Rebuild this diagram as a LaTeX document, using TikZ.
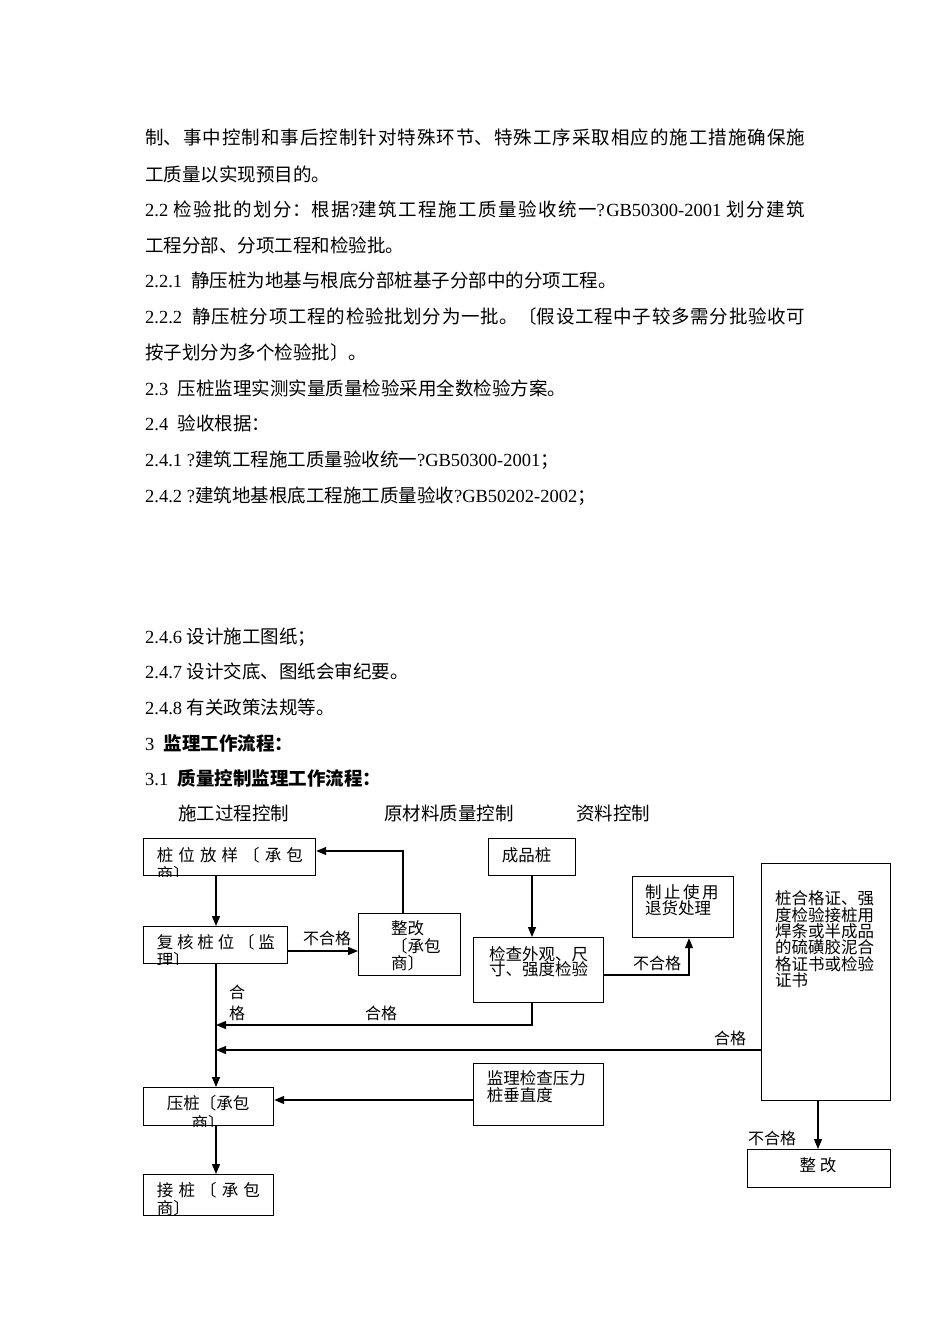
\documentclass[tikz,border=0pt]{standalone}
\usepackage{fontspec}
\setmainfont{Noto Sans CJK SC}
\newfontfamily\tnr{Liberation Serif}
\usetikzlibrary{arrows.meta}
\newcommand\Lt[1]{{\tnr #1}}
\newcommand\jl[1]{\parbox[b]{660pt}{\XeTeXlinebreaklocale "zh"\XeTeXlinebreakskip=0pt plus 4pt\parfillskip=0pt\noindent #1}}
\tikzset{
 body/.style={anchor=base west, inner sep=0pt, font=\fontsize{18.5}{22}\selectfont},
 box/.style={draw, line width=1.2pt, inner sep=0pt, anchor=north west},
 ct/.style={anchor=base west, inner sep=0pt, font=\fontsize{16.5}{19}\selectfont},
 ctc/.style={anchor=base, inner sep=0pt, font=\fontsize{16.5}{19}\selectfont},
 lbl/.style={anchor=base, inner sep=0pt, font=\fontsize{16}{19}\selectfont},
 arr/.style={line width=1.2pt, -{Triangle[length=10pt,width=8pt]}},
}
\begin{document}
\begin{tikzpicture}[x=1pt,y=-1pt]
\fill[white] (0,0) rectangle (950,1344);
\useasboundingbox (0,0) rectangle (950,1344);
% body text
\node[body] (t1) at (145,144) {\jl{制、事中控制和事后控制针对特殊环节、特殊工序采取相应的施工措施确保施}};
\node[body] (t2) at (145,181) {工质量以实现预目的。};
\node[body] (t3) at (145,216) {\jl{\Lt{2.2 }检验批的划分：根据\Lt{?}建筑工程施工质量验收统一\Lt{?GB50300-2001 }划分建筑}};
\node[body] (t4) at (145,252) {工程分部、分项工程和检验批。};
\node[body] (t5) at (145,287) {\Lt{2.2.1\ \ }静压桩为地基与根底分部桩基子分部中的分项工程。};
\node[body] (t6) at (145,323) {\jl{\Lt{2.2.2\ \ }静压桩分项工程的检验批划分为一批。〔假设工程中子较多需分批验收可}};
\node[body] (t7) at (145,359) {按子划分为多个检验批〕。};
\node[body] (t8) at (145,395) {\Lt{2.3\ \ }压桩监理实测实量质量检验采用全数检验方案。};
\node[body] (t9) at (145,430) {\Lt{2.4\ \ }验收根据：};
\node[body] (t10) at (145,466) {\Lt{2.4.1 ?}建筑工程施工质量验收统一\Lt{?GB50300-2001}；};
\node[body] (t11) at (145,502) {\Lt{2.4.2 ?}建筑地基根底工程施工质量验收\Lt{?GB50202-2002}；};
\node[body] (t12) at (145,643) {\Lt{2.4.6 }设计施工图纸；};
\node[body] (t13) at (145,678) {\Lt{2.4.7 }设计交底、图纸会审纪要。};
\node[body] (t14) at (145,714) {\Lt{2.4.8 }有关政策法规等。};
\node[body] (t15) at (145,750) {\Lt{3\ \ }{\bfseries 监理工作流程：}};
\node[body] (t16) at (145,785) {\Lt{3.1\ \ }{\bfseries 质量控制监理工作流程：}};
\node[body] (h1) at (178,820) {施工过程控制};
\node[body] (h2) at (384,820) {原材料质量控制};
\node[body] (h3) at (576,820) {资料控制};
% boxes
\node[box, minimum width=172pt, minimum height=37pt] (A) at (143,838) {};
\node[box, minimum width=144pt, minimum height=37pt] (B) at (143,926) {};
\node[box, minimum width=102pt, minimum height=62pt] (C) at (358,913) {};
\node[box, minimum width=87pt, minimum height=37pt] (D) at (488,838) {};
\node[box, minimum width=130pt, minimum height=65pt] (E) at (473,937) {};
\node[box, minimum width=101pt, minimum height=61pt] (F) at (632,876) {};
\node[box, minimum width=129pt, minimum height=237pt] (G) at (761,863) {};
\node[box, minimum width=143pt, minimum height=38pt] (H) at (747,1149) {};
\node[box, minimum width=130pt, minimum height=62pt] (I) at (473,1063) {};
\node[box, minimum width=130pt, minimum height=38pt] (J) at (143,1087) {};
\node[box, minimum width=130pt, minimum height=41pt] (K) at (143,1174) {};
% box texts (clipped ones)
\begin{scope}
\clip (A.south west) rectangle (A.north east);
\node[ct] (A1) at (156.7,861.3) {\makebox[146pt][s]{桩 位 放 样 〔 承 包}};
\node[ct] (A2) at (156.7,880.3) {商〕};
\end{scope}
\begin{scope}
\clip (B.south west) rectangle (B.north east);
\node[ct] (B1) at (156.7,948) {\makebox[118pt][s]{复 核 桩 位 〔 监}};
\node[ct] (B2) at (156.7,966.3) {理〕};
\end{scope}
\begin{scope}
\clip (J.south west) rectangle (J.north east);
\node[ctc] (J1) at (208,1109.6) {压桩〔承包};
\node[ctc] (J2) at (208,1129.3) {商〕};
\end{scope}
\begin{scope}
\clip (K.south west) rectangle (K.north east);
\node[ct] (K1) at (156.7,1196.3) {\makebox[103pt][s]{接 桩 〔 承 包}};
\node[ct] (K2) at (156.7,1214.3) {商〕};
\end{scope}
\node[ct] (C1) at (391,934.3) {整改};
\node[ct] (C2) at (391,952.3) {〔承包};
\node[ct] (C3) at (391,969.3) {商〕};
\node[ct] (D1) at (501.7,861.3) {成品桩};
\node[ct] (E1) at (489,960.3) {检查外观、尺};
\node[ct] (E2) at (489,975.6) {寸、强度检验};
\node[ct] (F1) at (645,898) {\makebox[73pt][s]{制 止 使 用}};
\node[ct] (F2) at (645,914.6) {退货处理};
\node[ct] (G1) at (775,904.6) {桩合格证、强};
\node[ct] (G2) at (775,921.0) {度检验接桩用};
\node[ct] (G3) at (775,937.4) {焊条或半成品};
\node[ct] (G4) at (775,953.8) {的硫磺胶泥合};
\node[ct] (G5) at (775,970.2) {格证书或检验};
\node[ct] (G6) at (775,986.6) {证书};
\node[ctc] (H1) at (818,1171.3) {整\ 改};
\node[ct] (I1) at (486.7,1084.6) {监理检查压力};
\node[ct] (I2) at (486.7,1101.3) {桩垂直度};
% labels
\node[lbl] (l1) at (327,944) {不合格};
\node[lbl] (l2) at (237,998) {合};
\node[lbl] (l3) at (237,1019) {格};
\node[lbl] (l4) at (381,1019) {合格};
\node[lbl] (l5) at (657,969.3) {不合格};
\node[lbl] (l6) at (730,1044.3) {合格};
\node[lbl] (l7) at (772,1144.3) {不合格};
% connector guides
\coordinate (vx) at (216,0);
\coordinate (xC) at (403,0);
\coordinate (xE) at (532,0);
\coordinate (xF) at (689,0);
\coordinate (xG) at (818,0);
\coordinate (yBC) at (0,951);
\coordinate (yCA) at (0,851);
\coordinate (yEv) at (0,1025);
\coordinate (yEF) at (0,975);
\coordinate (yGv) at (0,1050);
\coordinate (yIJ) at (0,1100);
% connectors
\draw[arr] (A.south -| vx) -- (B.north -| vx);
\draw[arr] (B.east |- yBC) -- (C.west |- yBC);
\draw[arr] (C.north -| xC) |- (A.east |- yCA);
\draw[arr] (B.south -| vx) -- (J.north -| vx);
\draw[arr] (D.south -| xE) -- (E.north -| xE);
\draw[arr] (E.south -| xE) |- (vx |- yEv);
\draw[arr] (E.east |- yEF) -| (F.south -| xF);
\draw[arr] (G.west |- yGv) -- (vx |- yGv);
\draw[arr] (G.south -| xG) -- (H.north -| xG);
\draw[arr] (I.west |- yIJ) -- (J.east |- yIJ);
\draw[arr] (J.south -| vx) -- (K.north -| vx);
\end{tikzpicture}
\end{document}
